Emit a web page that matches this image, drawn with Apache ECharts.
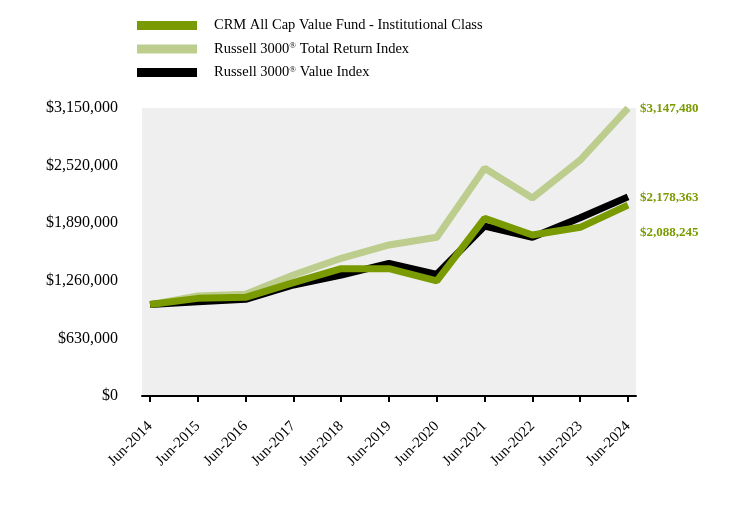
<!DOCTYPE html>
<html>
<head>
<meta charset="utf-8">
<script src="https://cdn.jsdelivr.net/npm/echarts@6/dist/echarts.min.js"></script>
<style>html,body{margin:0;padding:0;background:#fff}#c{width:744px;height:528px}</style>
</head>
<body>
<div id="c"></div>
<script>
var categories = ['Jun-2014','Jun-2015','Jun-2016','Jun-2017','Jun-2018','Jun-2019','Jun-2020','Jun-2021','Jun-2022','Jun-2023','Jun-2024'];
var fundValues = [1000000,1068000,1079000,1239000,1392000,1392000,1258000,1943000,1761000,1845000,2088245];
var totalReturnValues = [1000000,1094000,1112000,1323000,1506000,1652000,1736000,2490000,2165000,2581000,3147480];
var valueIndexValues = [1000000,1031000,1057000,1214000,1323000,1451000,1331000,1859000,1736000,1950000,2178363];
var yTicks = [0,630000,1260000,1890000,2520000,3150000];

var fundName = 'CRM All Cap Value Fund - Institutional Class';
var trName = 'Russell 3000® Total Return Index';
var viName = 'Russell 3000® Value Index';

function pts(arr){ return arr.map(function(v,i){ return [i,v]; }); }
function money(v){ return '$' + Math.round(v).toString().replace(/\B(?=(\d{3})+(?!\d))/g, ','); }
var idx = categories.map(function(c,i){ return i; });
var serif = '"Liberation Serif","DejaVu Serif","Times New Roman",serif';

var chart = echarts.init(document.getElementById('c'));
chart.setOption({
  animation: false,
  backgroundColor: '#ffffff',
  textStyle: { fontFamily: serif },
  legend: {
    orient: 'vertical',
    left: 137,
    top: 18,
    padding: 0,
    itemWidth: 60,
    itemHeight: 9,
    itemGap: 8.5,
    icon: 'rect',
    data: [fundName, trName, viName],
    formatter: function(name){
      if (name.indexOf('®') >= 0) {
        var parts = name.split('®');
        return '{t|' + parts[0] + '}{s|®}{t|' + parts[1] + '}';
      }
      return '{t|' + name + '}';
    },
    textStyle: {
      padding: [0,0,0,12],
      rich: {
        t: { fontFamily: serif, fontSize: 14.5, color: '#000' },
        s: { fontFamily: serif, fontSize: 9, color: '#000', verticalAlign: 'top', padding: [0,0,6,0] }
      }
    }
  },
  grid: {
    left: 142, right: 108, top: 108, bottom: 132,
    show: true, backgroundColor: '#efefef', borderWidth: 0
  },
  xAxis: {
    type: 'value',
    min: -0.167, max: 10.167,
    splitLine: { show: false },
    axisLine: { show: true, lineStyle: { color: '#000', width: 2 } },
    axisTick: { show: true, customValues: idx, length: 6, lineStyle: { color: '#000', width: 2 } },
    axisLabel: {
      customValues: idx,
      rotate: 45,
      margin: 28,
      fontFamily: serif, fontSize: 15, color: '#000',
      formatter: function(v){ return categories[Math.round(v)]; }
    }
  },
  yAxis: {
    type: 'value',
    min: 0, max: 3150000, interval: 630000,
    splitLine: { show: false },
    axisLine: { show: false },
    axisTick: { show: false },
    axisLabel: {
      margin: 24,
      fontFamily: serif, fontSize: 16, color: '#000',
      formatter: function(v){ return money(v); }
    }
  },
  series: [
    {
      name: trName, type: 'line', data: pts(totalReturnValues),
      symbol: 'none', lineStyle: { color: '#bccd8d', width: 7 }, itemStyle: { color: '#bccd8d' },
      endLabel: { show: true, formatter: function(p){ return money(p.value[1]); }, color: '#7a9a01', fontFamily: serif, fontWeight: 'bold', fontSize: 13, distance: 12, offset: [0, 0] }
    },
    {
      name: viName, type: 'line', data: pts(valueIndexValues),
      symbol: 'none', lineStyle: { color: '#000000', width: 7 }, itemStyle: { color: '#000000' },
      endLabel: { show: true, formatter: function(p){ return money(p.value[1]); }, color: '#7a9a01', fontFamily: serif, fontWeight: 'bold', fontSize: 13, distance: 12, offset: [0, 1] }
    },
    {
      name: fundName, type: 'line', data: pts(fundValues),
      symbol: 'none', lineStyle: { color: '#7a9a01', width: 7 }, itemStyle: { color: '#7a9a01' },
      endLabel: { show: true, formatter: function(p){ return money(p.value[1]); }, color: '#7a9a01', fontFamily: serif, fontWeight: 'bold', fontSize: 13, distance: 12, offset: [0, 28] }
    }
  ]
});
</script>
</body>
</html>
